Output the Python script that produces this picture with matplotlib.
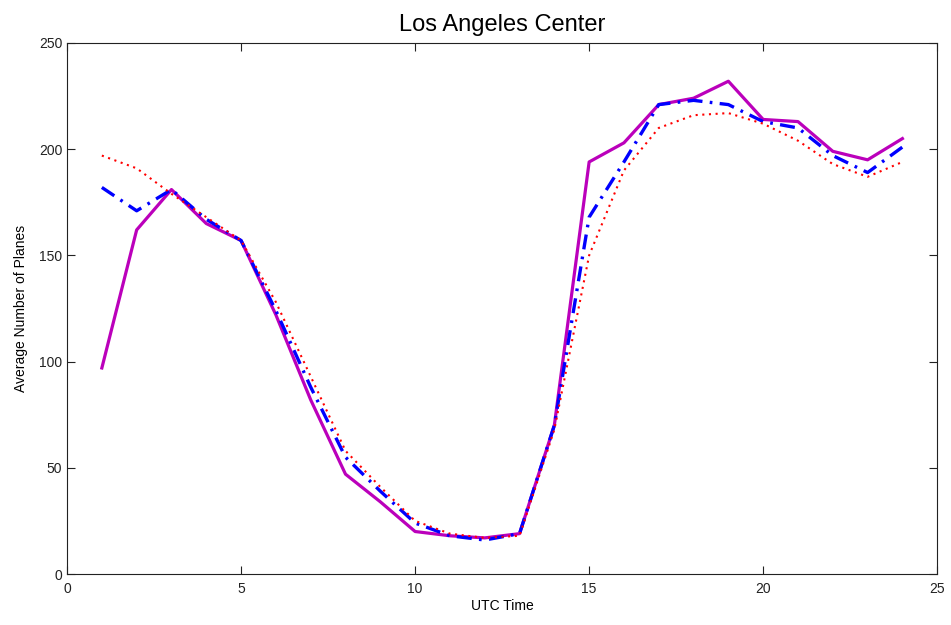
import matplotlib
matplotlib.use('Agg')
import matplotlib.pyplot as plt

# hourly averages, UTC hours 1..24
hours = list(range(1, 25))
solid_vals = [97, 162, 181, 165, 157, 122, 82, 47, 34, 20, 18, 17,
              19, 70, 194, 203, 221, 224, 232, 214, 213, 199, 195, 205]
dashdot_vals = [182, 171, 181, 167, 157, 124, 88, 55, 39, 24, 18, 16,
                19, 70, 168, 194, 221, 223, 221, 213, 210, 197, 189, 201]
dotted_vals = [197, 191, 179, 168, 157, 128, 93, 58, 41, 25, 19, 17,
               18, 68, 150, 190, 210, 216, 217, 212, 204, 193, 187, 194]

plt.rcParams['font.family'] = ['Liberation Sans', 'DejaVu Sans']

fig = plt.figure(figsize=(9.51, 6.25), dpi=100)
ax = fig.add_axes([0.0705, 0.0816, 0.915, 0.8496])

ax.plot(hours, solid_vals, color='#bb00bb', linewidth=2.3, linestyle='-')
ax.plot(hours, dashdot_vals, color='#0000ff', linewidth=2.4,
        linestyle=(0, (4.5, 2.2, 0.8, 2.2)))
ax.plot(hours, dotted_vals, color='#ff0000', linewidth=1.5,
        linestyle=(0, (1, 2.2)))

ax.set_xlim(0, 25)
ax.set_ylim(0, 250)
ax.set_xticks([0, 5, 10, 15, 20, 25])
ax.set_yticks([0, 50, 100, 150, 200, 250])
ax.tick_params(direction='in', top=True, right=True, length=6, width=0.8,
               labelsize=10, colors='#222222')
ax.tick_params(axis='x', pad=6)
for s in ax.spines.values():
    s.set_linewidth(0.8)
    s.set_color('#222222')

ax.set_title('Los Angeles Center', fontsize=17, pad=9)
ax.set_xlabel('UTC Time', fontsize=10, labelpad=2)
ax.set_ylabel('Average Number of Planes', fontsize=10, labelpad=8)

fig.savefig('out.png', dpi=100)
